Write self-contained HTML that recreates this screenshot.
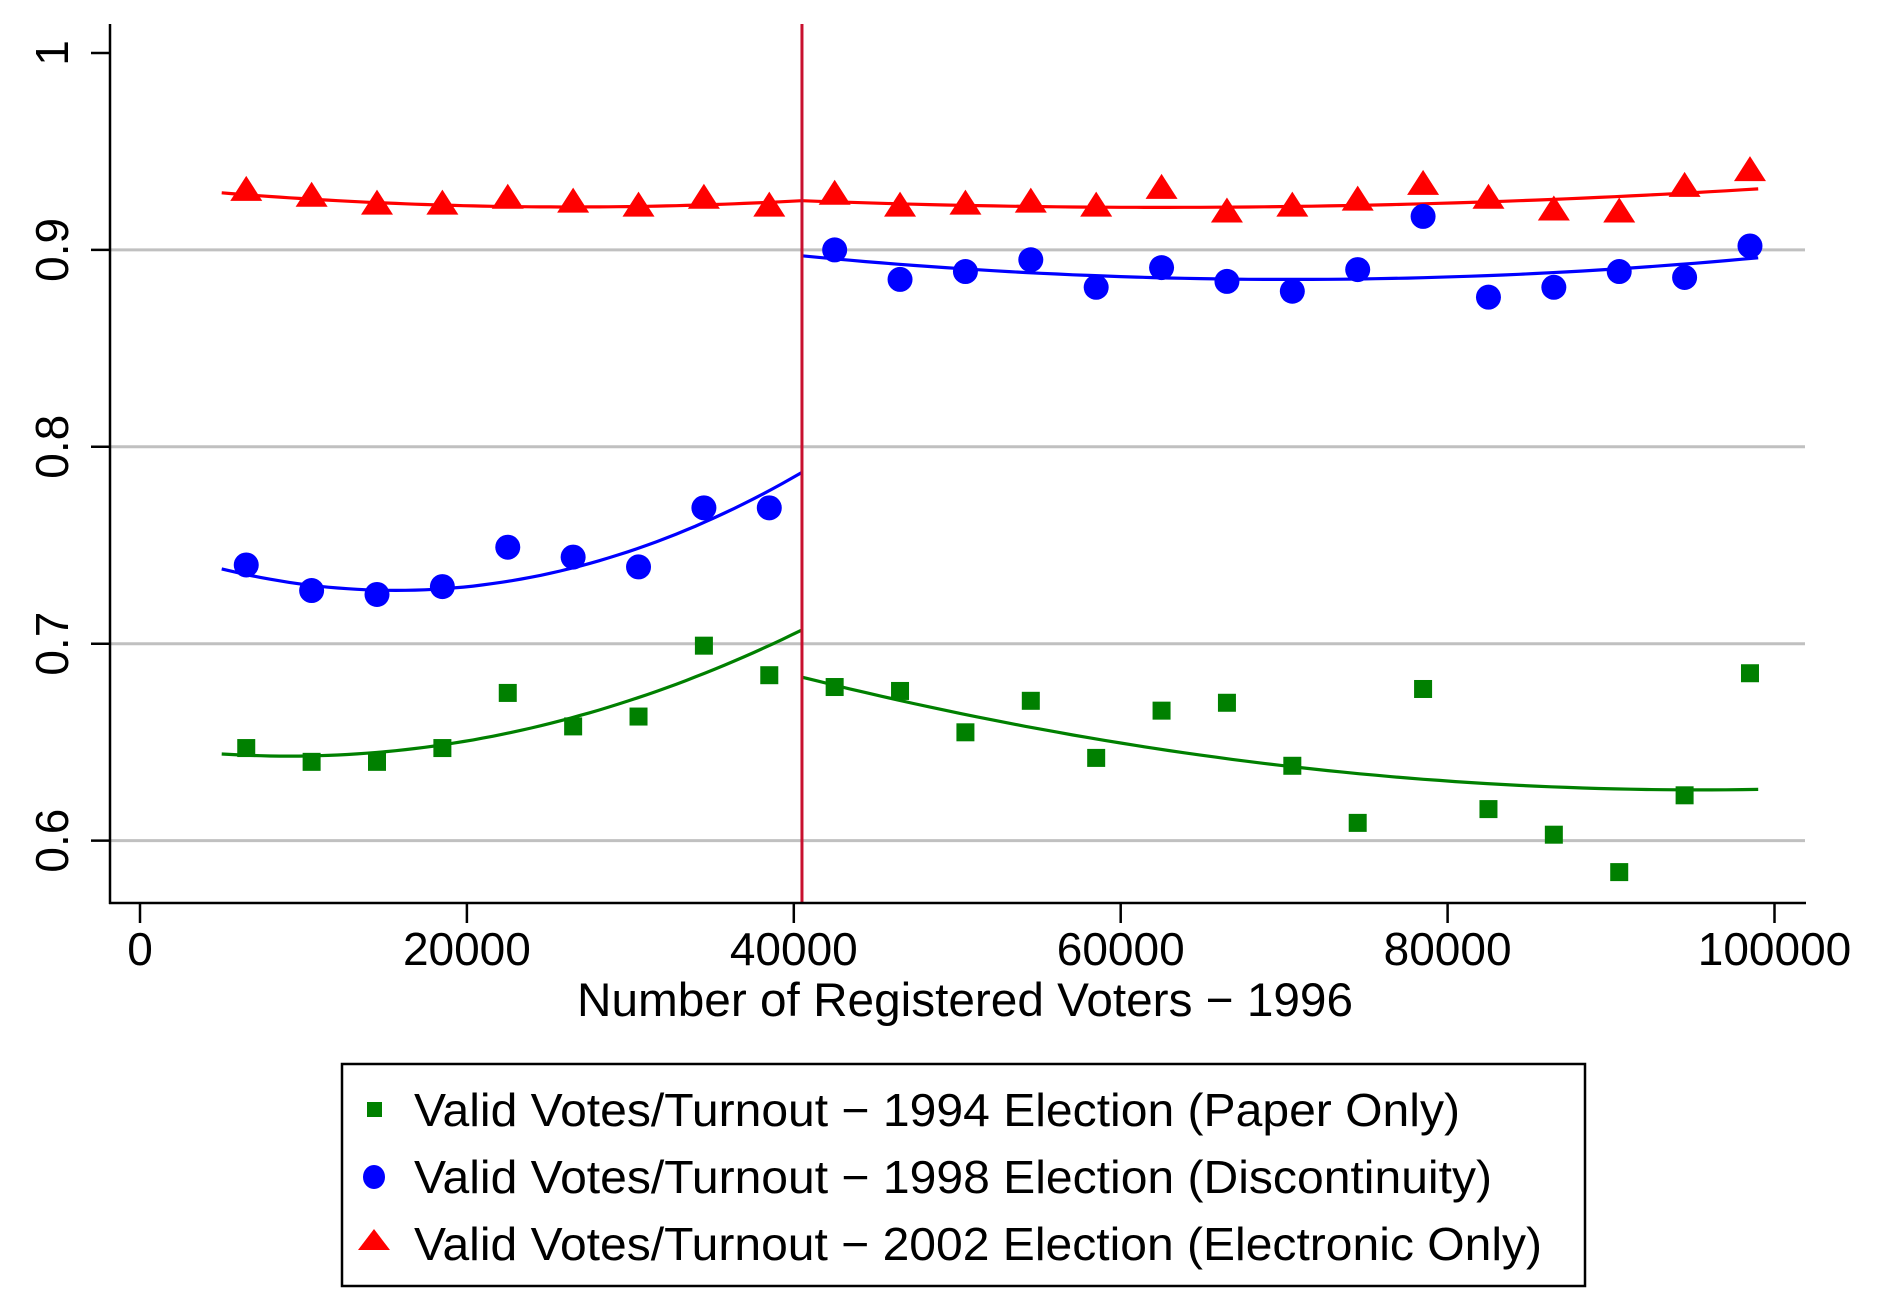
<!DOCTYPE html>
<html><head><meta charset="utf-8"><style>
html,body{margin:0;padding:0;background:#fff;}
svg{display:block;font-family:"Liberation Sans",Arial,sans-serif;}
</style></head><body>
<svg id="chart" width="1900" height="1308" viewBox="0 0 1900 1308" xmlns="http://www.w3.org/2000/svg">
<rect width="1900" height="1308" fill="#fff"/>
<g id="grid"></g>
<g id="fits"></g>
<g id="marks"></g>
<g id="axes"></g>
<text x="965" y="1016" font-size="47" text-anchor="middle" textLength="776" lengthAdjust="spacingAndGlyphs">Number of Registered Voters − 1996</text>
<g>
<rect x="342" y="1064" width="1243" height="222" fill="#fff" stroke="#000" stroke-width="2.5"/>
<rect x="367" y="1102" width="15" height="15" fill="#008000"/>
<text x="414" y="1126" font-size="46" textLength="1046" lengthAdjust="spacingAndGlyphs">Valid Votes/Turnout − 1994 Election (Paper Only)</text>
<ellipse cx="374" cy="1177" rx="11" ry="12" fill="#0000ff"/>
<text x="414" y="1193" font-size="46" textLength="1078" lengthAdjust="spacingAndGlyphs">Valid Votes/Turnout − 1998 Election (Discontinuity)</text>
<polygon points="374,1229 358,1250 390,1250" fill="#ff0000"/>
<text x="414" y="1260" font-size="46" textLength="1128" lengthAdjust="spacingAndGlyphs">Valid Votes/Turnout − 2002 Election (Electronic Only)</text>
</g>
</svg>
<script>
const xBins = [6500,10500,14500,18500,22500,26500,30500,34500,38500,42500,46500,50500,54500,58500,62500,66500,70500,74500,78500,82500,86500,90500,94500,98500];
const green = [0.647,0.640,0.640,0.647,0.675,0.658,0.663,0.699,0.684,0.678,0.676,0.655,0.671,0.642,0.666,0.670,0.638,0.609,0.677,0.616,0.603,0.584,0.623,0.685];
const blue = [0.740,0.727,0.725,0.729,0.749,0.744,0.739,0.769,0.769,0.900,0.885,0.889,0.895,0.881,0.891,0.884,0.879,0.890,0.917,0.876,0.881,0.889,0.886,0.902];
const red = [0.930,0.927,0.923,0.923,0.926,0.924,0.922,0.926,0.922,0.928,0.922,0.923,0.924,0.922,0.931,0.919,0.922,0.925,0.933,0.926,0.920,0.919,0.932,0.940];
const cutoff = 40500;
// fitted quadratic curves: values at three x positions each side
const fitXLeft = [5000,22750,40500];
const fitXRight = [40500,70000,99000];
const fitGreenLeft = [0.644,0.655,0.707];
const fitGreenRight = [0.683,0.638,0.626];
const fitBlueLeft = [0.738,0.732,0.787];
const fitBlueRight = [0.897,0.885,0.896];
const fitRedLeft = [0.929,0.922,0.925];
const fitRedRight = [0.925,0.922,0.931];
const xTicks = [0,20000,40000,60000,80000,100000];
const yTicks = [0.6,0.7,0.8,0.9,1];
const yGrid = [0.6,0.7,0.8,0.9];

const NS="http://www.w3.org/2000/svg";
const X = v => 140 + v*0.016345;
const Y = v => 53 + (1-v)*1969;
function mk(tag, attrs, parent){const e=document.createElementNS(NS,tag);for(const k in attrs)e.setAttribute(k,attrs[k]);parent.appendChild(e);return e;}
const grid=document.getElementById('grid'), fits=document.getElementById('fits'), marks=document.getElementById('marks'), axes=document.getElementById('axes');

yGrid.forEach(v=>{
  const l=mk('line',{x1:111,x2:1805,y1:Y(v),y2:Y(v),stroke:'#c0c0c0','stroke-width':3},grid);
  
  
});

function quad3(xs, ys){
  return x=>{let s=0;for(let i=0;i<3;i++){let p=ys[i];for(let j=0;j<3;j++){if(j!==i)p*=(x-xs[j])/(xs[i]-xs[j]);}s+=p;}return s;};
}
function drawFit(xs,ys,color,name){
  const f=quad3(xs,ys);let d='';
  const a=xs[0],b=xs[2];
  for(let i=0;i<=60;i++){const x=a+(b-a)*i/60;d+=(i?'L':'M')+X(x).toFixed(1)+','+Y(f(x)).toFixed(1);}
  const p=mk('path',{d:d,fill:'none',stroke:color,'stroke-width':3.2},fits);
  
  
}
drawFit(fitXLeft,fitGreenLeft,'#008000','fit-1994-left');
drawFit(fitXRight,fitGreenRight,'#008000','fit-1994-right');
drawFit(fitXLeft,fitBlueLeft,'#0000ff','fit-1998-left');
drawFit(fitXRight,fitBlueRight,'#0000ff','fit-1998-right');
drawFit(fitXLeft,fitRedLeft,'#ff0000','fit-2002-left');
drawFit(fitXRight,fitRedRight,'#ff0000','fit-2002-right');

xBins.forEach((x,i)=>{
  const cx=X(x);
  const s=mk('rect',{x:cx-9,y:Y(green[i])-9,width:18,height:18,fill:'#008000'},marks);
  
  
  const c=mk('circle',{cx:cx,cy:Y(blue[i]),r:12.5,fill:'#0000ff'},marks);
  
  
  const ty=Y(red[i]);
  const t=mk('polygon',{points:`${cx},${ty-15} ${cx-16},${ty+10} ${cx+16},${ty+10}`,fill:'#ff0000'},marks);
  
  
});

const cl=mk('line',{x1:X(cutoff),x2:X(cutoff),y1:24,y2:903,stroke:'#c8102e','stroke-width':3},marks);



const ya=mk('line',{x1:110,x2:110,y1:24,y2:904,stroke:'#000','stroke-width':2.5},axes);


const xa=mk('line',{x1:109,x2:1806,y1:903,y2:903,stroke:'#000','stroke-width':2.5},axes);



xTicks.forEach(v=>{
  const t=mk('line',{x1:X(v),x2:X(v),y1:903,y2:923,stroke:'#000','stroke-width':2.5},axes);
  
  
  const l=mk('text',{x:X(v),y:965,'font-size':46,'text-anchor':'middle'},axes);
  l.textContent=String(v);
  
  
});
yTicks.forEach(v=>{
  const t=mk('line',{x1:91,x2:110,y1:Y(v),y2:Y(v),stroke:'#000','stroke-width':2.5},axes);
  
  
  const l=mk('text',{x:0,y:0,'font-size':46,'text-anchor':'middle',transform:`translate(68,${Y(v)}) rotate(-90)`},axes);
  l.textContent=String(v);
  
  
});
</script>
</body></html>
